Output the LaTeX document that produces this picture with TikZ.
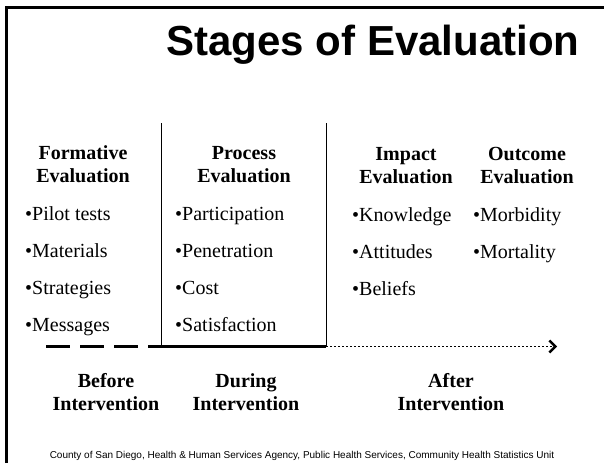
\documentclass[tikz,border=0pt]{standalone}
\usepackage{fontspec}
\setmainfont{Liberation Serif}
\newfontfamily\arialfont{Liberation Sans}
\usetikzlibrary{arrows,arrows.meta}

\begin{document}
\begin{tikzpicture}[x=1pt,y=-1pt,
title/.style={font=\arialfont\bfseries\fontsize{42}{46}\selectfont},
head/.style={font=\bfseries\fontsize{20}{23}\selectfont,align=center,inner sep=0pt},
item/.style={font=\fontsize{20}{23}\selectfont,anchor=base west,inner sep=0pt},
foot/.style={font=\arialfont\fontsize{10}{12}\selectfont,inner sep=0pt},
frame/.style={line width=2.6pt},
bar/.style={line width=0.8pt},
base/.style={line width=2.2pt},
arrow/.style={-{Straight Barb[length=6pt,width=12pt,line width=2.4pt]},line width=1.8pt,dash pattern=on 1.6pt off 2.4pt} ]

\useasboundingbox (0,0) rectangle (604,463);

\draw[frame] (6.5,463) -- (6.5,7.5) -- (604,7.5);

\node[title] (T) at (373,45) {Stages of Evaluation};

\node[head] (FH) at (83,166) {Formative\strut\\Evaluation\strut};
\node[head] (PH) at (244,166) {Process\strut\\Evaluation\strut};
\node[head] (IH) at (406,167) {Impact\strut\\Evaluation\strut};
\node[head] (OH) at (527,167) {Outcome\strut\\Evaluation\strut};

\node[item] (F1) at (25,220) {•Pilot tests};
\node[item] (F2) at (25,257) {•Materials};
\node[item] (F3) at (25,294) {•Strategies};
\node[item] (F4) at (25,331) {•Messages};

\node[item] (P1) at (175,220) {•Participation};
\node[item] (P2) at (175,257) {•Penetration};
\node[item] (P3) at (175,294) {•Cost};
\node[item] (P4) at (175,331) {•Satisfaction};

\node[item] (I1) at (352,221) {•Knowledge};
\node[item] (I2) at (352,258) {•Attitudes};
\node[item] (I3) at (352,295) {•Beliefs};

\node[item] (O1) at (473,221) {•Morbidity};
\node[item] (O2) at (473,258) {•Mortality};

\coordinate (S) at (46,346.5);
\coordinate (A) at (161,123);
\coordinate (B) at (161,346.5);
\coordinate (C) at (326,123);
\coordinate (D) at (326,346.5);
\coordinate (E) at (557,346.5);

\draw[bar] (A) -- (B);
\draw[bar] (C) -- (D);
\draw[line width=2.8pt,dash pattern=on 24pt off 10pt] (S) -- (B);
\draw[base] (B) -- (D);
\draw[arrow] (D) -- (E);

\node[head] (BI) at (106,394) {Before\strut\\Intervention\strut};
\node[head] (DI) at (246,394) {During\strut\\Intervention\strut};
\node[head] (AI) at (451,394) {After\strut\\Intervention\strut};

\node[foot] (N) at (302,456) {County of San Diego, Health \& Human Services Agency, Public Health Services, Community Health Statistics Unit};

\end{tikzpicture}
\end{document}
